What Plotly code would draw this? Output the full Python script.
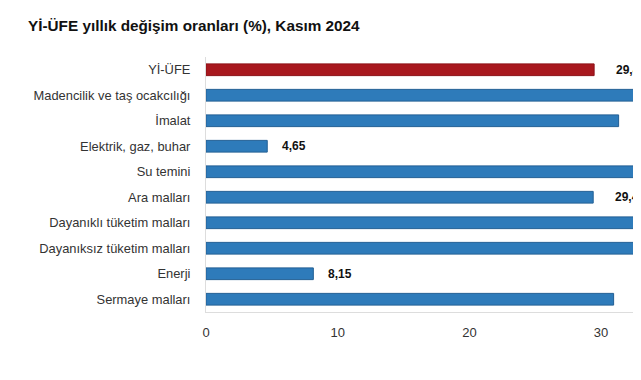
import plotly.graph_objects as go

categories = ["Yİ-ÜFE", "Madencilik ve taş ocakcılığı", "İmalat", "Elektrik, gaz, buhar",
              "Su temini", "Ara malları", "Dayanıklı tüketim malları",
              "Dayanıksız tüketim malları", "Enerji", "Sermaye malları"]
values = [29.47, 41.62, 31.33, 4.65, 57.15, 29.40, 35.37, 37.89, 8.15, 30.95]
x_ticks = [0, 10, 20, 30]

RED = "#a8181e"
BLUE = "#2e7bba"
colors = [RED] + [BLUE] * (len(values) - 1)
borders = ["#8c1016"] + ["#225f94"] * (len(values) - 1)

FONT = "Liberation Sans, Arial, sans-serif"
W, H = 633, 352  # page body has an 8px margin

fig = go.Figure()
fig.add_trace(go.Bar(
    x=values, y=categories, orientation="h",
    marker=dict(color=colors, line=dict(color=borders, width=1)),
    width=0.46, hoverinfo="skip",
))

for v, c in zip(values, categories):
    lab = f"{v:.2f}".replace(".", ",")
    fig.add_annotation(x=v, y=c, xref="x", yref="y", text=f"<b>{lab}</b>", showarrow=False,
                       xanchor="left", yanchor="middle",
                       xshift=13 if v < 10 else 20,
                       font=dict(family=FONT, size=12, color="#111"))

fig.update_layout(
    width=W, height=H,
    margin=dict(l=198, r=0, t=49, b=H - 304, pad=0),
    paper_bgcolor="white", plot_bgcolor="white",
    showlegend=False,
    font=dict(family=FONT, color="#333"),
    title=dict(text="<b>Yİ-ÜFE yıllık değişim oranları (%), Kasım 2024</b>",
               x=20 / W, xanchor="left", xref="container",
               y=1 - 18 / H, yanchor="middle", yref="container",
               font=dict(size=15.3, color="#111", family=FONT)),
)
fig.update_xaxes(range=[0, 435 / 13.17], tickvals=x_ticks, showgrid=False, zeroline=False,
                 showline=True, linecolor="#dddddd", linewidth=1,
                 ticks="outside", ticklen=8, tickcolor="rgba(0,0,0,0)",
                 tickfont=dict(size=13, color="#333"), fixedrange=True)
fig.update_yaxes(autorange="reversed", showgrid=False, zeroline=False,
                 showline=True, linecolor="#dddddd", linewidth=1,
                 ticks="outside", ticklen=12, tickcolor="rgba(0,0,0,0)",
                 tickfont=dict(size=12.9, color="#333"), fixedrange=True)

fig.write_html("out.html")
